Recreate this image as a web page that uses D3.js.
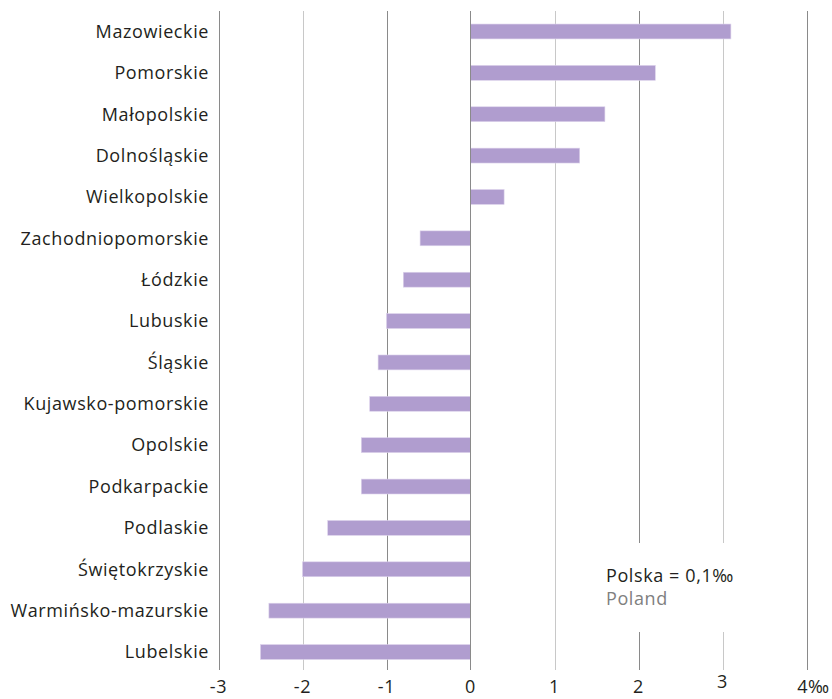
<!DOCTYPE html>
<html><head><meta charset="utf-8">
<script src="https://cdn.jsdelivr.net/npm/d3@7"></script>
<style>body{margin:0;background:#fff}svg{display:block}text{font-family:"Open Sans",sans-serif;letter-spacing:0.6px}</style>
</head><body>
<script>
const regions = ["Mazowieckie","Pomorskie","Małopolskie","Dolnośląskie","Wielkopolskie","Zachodniopomorskie","Łódzkie","Lubuskie","Śląskie","Kujawsko-pomorskie","Opolskie","Podkarpackie","Podlaskie","Świętokrzyskie","Warmińsko-mazurskie","Lubelskie"];
const values = [3.1,2.2,1.6,1.3,0.4,-0.6,-0.8,-1.0,-1.1,-1.2,-1.3,-1.3,-1.7,-2.0,-2.4,-2.5];
const tickValues = [-3,-2,-1,0,1,2,3,4];
const tickLabels = ["-3","-2","-1","0","1","2","3","4‰"];
const noteMain = "Polska = 0,1‰";
const noteSub = "Poland";

const W = 832, H = 699;
const svg = d3.select("body").append("svg").attr("width", W).attr("height", H);
const x = d3.scaleLinear().domain([-3, 4]).range([218.5, 806.5]);
const y = d3.scaleBand().domain(regions).range([10.8, 672.7]).paddingInner(0.64).paddingOuter(0.32);
const gridTop = 11, gridBottom = 670;
const lightTicks = new Set([-2, 1, 3]);

// gridlines
svg.append("g").selectAll("line").data(tickValues).join("line")
  .attr("x1", d => Math.round(x(d)) + 0.5).attr("x2", d => Math.round(x(d)) + 0.5)
  .attr("y1", gridTop).attr("y2", gridBottom)
  .attr("stroke", d => lightTicks.has(d) ? "#c8c8c8" : "#8a8a8a")
  .attr("stroke-width", 1);

// bars
svg.append("g").selectAll("rect").data(values).join("rect")
  .attr("x", d => x(Math.min(0, d)))
  .attr("width", d => Math.abs(x(d) - x(0)))
  .attr("y", (d, i) => y(regions[i]))
  .attr("height", y.bandwidth())
  .attr("fill", "#b09dcf")
  .attr("stroke", "#ddd3ec").attr("stroke-width", 0.6);

// zero line over bars
svg.append("line").attr("x1", Math.round(x(0)) + 0.5).attr("x2", Math.round(x(0)) + 0.5)
  .attr("y1", gridTop).attr("y2", gridBottom).attr("stroke", "#8a8a8a");

// category labels
svg.append("g").selectAll("text").data(regions).join("text")
  .attr("x", 209).attr("y", d => y(d) + y.bandwidth() / 2)
  .attr("dy", "0.35em").attr("text-anchor", "end")
  .attr("font-size", 18).attr("fill", "#231f20").text(d => d);

// x tick labels
svg.append("g").selectAll("text").data(tickValues).join("text")
  .attr("x", (d, i) => x(d) + (i === tickValues.length - 1 ? 7 : 0))
  .attr("y", d => d === 3 ? 688 : 693)
  .attr("text-anchor", "middle")
  .attr("font-size", 18).attr("fill", "#231f20")
  .text((d, i) => tickLabels[i]);

// note with white background
svg.append("rect").attr("x", 600).attr("y", 543).attr("width", 180).attr("height", 89).attr("fill", "#fff");
svg.append("text").attr("x", 606).attr("y", 582).attr("font-size", 18).attr("letter-spacing", 0.4).attr("fill", "#231f20").text(noteMain);
svg.append("text").attr("x", 606).attr("y", 605).attr("font-size", 18).attr("letter-spacing", 0.4).attr("fill", "#808080").text(noteSub);
</script>
</body></html>
